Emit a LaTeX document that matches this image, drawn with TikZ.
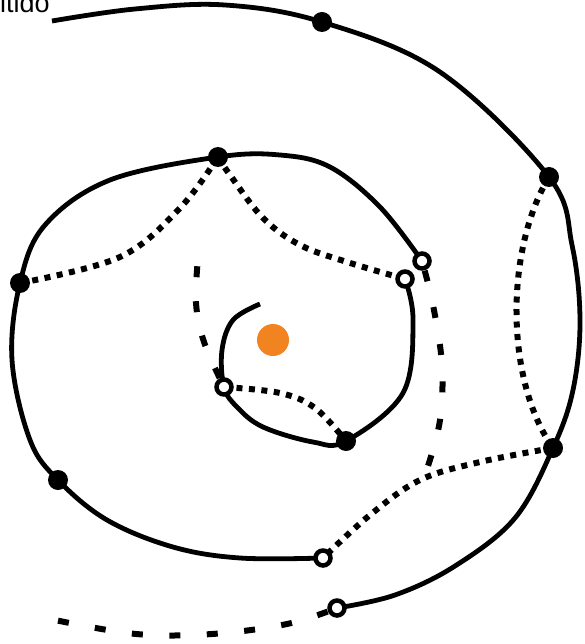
\documentclass[tikz,border=0pt]{standalone}
\usepackage{fontspec}
\setmainfont{Liberation Sans}
\definecolor{orangedot}{RGB}{241,131,33}
\begin{document}
\begin{tikzpicture}[x=1pt,y=-1pt,
  solidline/.style={line width=4.8pt, line cap=butt},
  dotline/.style={line width=6pt, dash pattern=on 6pt off 6.5pt},
  dashline/.style={line width=6pt, dash pattern=on 11pt off 26.5pt, dash phase=27.5pt},
  blackdot/.style={circle, fill=black, inner sep=0pt, minimum size=20pt},
  opendot/.style={circle, draw=black, fill=white, line width=4.5pt, inner sep=0pt, minimum size=15pt}]
\clip (0,0) rectangle (584,644);
% key points
\coordinate (a0) at (52,21);
\coordinate (d1) at (322,22);
\coordinate (d2) at (549,177);
\coordinate (d3) at (553,448);
\coordinate (o1) at (337,608);
\coordinate (o2) at (323,558);
\coordinate (d4) at (58,480);
\coordinate (d5) at (20,283);
\coordinate (d6) at (218,157);
\coordinate (o3) at (422,261);
\coordinate (o4) at (405,279);
\coordinate (d7) at (346,441);
\coordinate (o5) at (224,387);
\coordinate (e1) at (260,304);
\coordinate (t1) at (55,620);
\coordinate (t2) at (428,466);
\coordinate (t3) at (198,258);
% text
\node[anchor=base west, inner sep=0pt, font=\fontsize{27}{30}\selectfont] (txt) at (0,13) {itido};
% solid spiral
\draw[solidline] plot[smooth, tension=0.6] coordinates {(a0) (135,9) (225,5) (d1) (440,72) (d2) (572,245) (580,320) (573,390) (d3) (515,518) (455,566) (395,595) (o1)};
\draw[solidline] plot[smooth, tension=0.6] coordinates {(o2) (240,558) (173,547) (107,520) (d4) (30,440) (12,360) (d5) (45,225) (110,180) (d6) (280,155) (330,167) (380,207) (o3)};
\draw[solidline] plot[smooth, tension=0.6] coordinates {(o4) (413,320) (403,393) (d7) (313,442) (263,427) (237,407) (o5) (222,350) (233,320) (e1)};
% dotted connectors
\draw[dotline] plot[smooth, tension=0.6] coordinates {(d5) (120,257) (180,208) (d6)};
\draw[dotline] plot[smooth, tension=0.6] coordinates {(d6) (230,175) (263,218) (300,245) (347,262) (o4)};
\draw[dotline] (d2) .. controls (505,250) and (505,380) .. (d3);
\draw[dotline] plot[smooth, tension=0.6] coordinates {(d3) (480,462) (420,480) (370,515) (o2)};
\draw[dotline] plot[smooth, tension=0.6] coordinates {(o5) (280,393) (315,408) (d7)};
% dashed continuations
\draw[dashline] plot[smooth, tension=0.6] coordinates {(o1) (287,624) (212,634) (136,634) (t1)};
\draw[dashline] plot[smooth, tension=0.6] coordinates {(o3) (433,305) (442,365) (440,420) (t2)};
\draw[dashline, dash pattern=on 11pt off 24pt, dash phase=25pt] plot[smooth, tension=0.6] coordinates {(o5) (204,342) (196,303) (t3)};
% dots
\node[blackdot] (n1) at (d1) {};
\node[blackdot] (n2) at (d2) {};
\node[blackdot] (n3) at (d3) {};
\node[blackdot] (n4) at (d4) {};
\node[blackdot] (n5) at (d5) {};
\node[blackdot] (n6) at (d6) {};
\node[blackdot] (n7) at (d7) {};
\node[opendot] (m1) at (o1) {};
\node[opendot] (m2) at (o2) {};
\node[opendot] (m3) at (o3) {};
\node[opendot] (m4) at (o4) {};
\node[opendot] (m5) at (o5) {};
\node[circle, fill=orangedot, inner sep=0pt, minimum size=32pt] (sun) at (273,340) {};
\end{tikzpicture}
\end{document}
